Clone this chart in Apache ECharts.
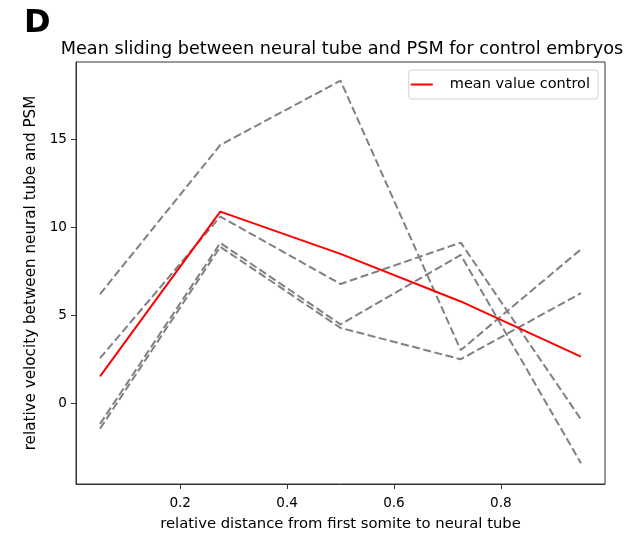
<!DOCTYPE html>
<html>
<head>
<meta charset="utf-8">
<script src="https://cdn.jsdelivr.net/npm/echarts@6/dist/echarts.min.js"></script>
<style>html,body{margin:0;padding:0;background:#fff;}#c{width:631px;height:537px;}</style>
</head>
<body>
<div id="c"></div>
<script>
const xPositions = [0.05, 0.275, 0.5, 0.725, 0.95];
const embryoA = [6.22, 14.68, 18.33, 3.04, 8.76];
const embryoB = [2.58, 10.62, 6.79, 9.14, -0.89];
const embryoC = [-1.15, 9.12, 4.5, 8.44, -3.38];
const embryoD = [-1.42, 8.9, 4.3, 2.52, 6.27];
const meanControl = [1.55, 10.9, 8.5, 5.8, 2.67];
const xTicks = [0.2, 0.4, 0.6, 0.8];
const yTicks = [0, 5, 10, 15];

const pairs = ys => xPositions.map((x, i) => [x, ys[i]]);
const font = 'DejaVu Sans';
const dashed = (name, ys) => ({
  name, type: 'line', data: pairs(ys), symbol: 'none', silent: true,
  lineStyle: { color: '#808080', width: 2, type: [8, 3.5] }, z: 2
});

const chart = echarts.init(document.getElementById('c'), null, { renderer: 'canvas' });
chart.setOption({
  animation: false,
  backgroundColor: '#fff',
  textStyle: { fontFamily: font },
  graphic: [{
    type: 'text', left: 24, top: 8,
    style: { text: 'D', font: 'bold 32px "DejaVu Sans"', fill: '#000' }
  }],
  title: {
    text: 'Mean sliding between neural tube and PSM for control embryos',
    left: 337, top: 35, textAlign: 'center',
    textStyle: { fontFamily: font, fontSize: 17.7, fontWeight: 'normal', color: '#000' }
  },
  legend: {
    data: [{ name: 'mean value control', icon: 'rect' }],
    right: 33, top: 70,
    padding: [7, 8, 7, 2],
    itemWidth: 22, itemHeight: 2, itemGap: 8,
    borderColor: '#d0d0d0', borderWidth: 1, borderRadius: 3,
    textStyle: { fontFamily: font, fontSize: 14.5, color: '#000', padding: [0, 0, 0, 12] }
  },
  grid: {
    left: 76, right: 26, top: 62, bottom: 53,
    show: true, borderColor: '#333', borderWidth: 1, containLabel: false
  },
  xAxis: {
    type: 'value', min: 0.005, max: 0.995,
    name: 'relative distance from first somite to neural tube',
    nameLocation: 'middle', nameGap: 33,
    nameTextStyle: { fontFamily: font, fontSize: 14.8, color: '#000' },
    axisLine: { show: true, onZero: false, lineStyle: { color: '#333' } },
    splitLine: { show: false },
    axisTick: { show: true, length: 5, lineStyle: { color: '#333' }, customValues: xTicks },
    axisLabel: { fontFamily: font, fontSize: 13.6, color: '#000', margin: 12, customValues: xTicks, formatter: v => v.toFixed(1) }
  },
  yAxis: {
    type: 'value', min: -4.56, max: 19.39,
    name: 'relative velocity between neural tube and PSM',
    nameLocation: 'middle', nameGap: 36,
    nameTextStyle: { fontFamily: font, fontSize: 15.2, color: '#000' },
    axisLine: { show: true, onZero: false, lineStyle: { color: '#333' } },
    splitLine: { show: false },
    axisTick: { show: true, length: 5, lineStyle: { color: '#333' }, customValues: yTicks },
    axisLabel: { fontFamily: font, fontSize: 13.6, color: '#000', margin: 9, customValues: yTicks, formatter: v => String(v) }
  },
  series: [
    dashed('embryo A', embryoA),
    dashed('embryo B', embryoB),
    dashed('embryo C', embryoC),
    dashed('embryo D', embryoD),
    {
      name: 'mean value control', type: 'line', data: pairs(meanControl), symbol: 'none',
      lineStyle: { color: '#ff0000', width: 2 }, itemStyle: { color: '#ff0000' }, z: 3
    }
  ]
});
</script>
</body>
</html>
